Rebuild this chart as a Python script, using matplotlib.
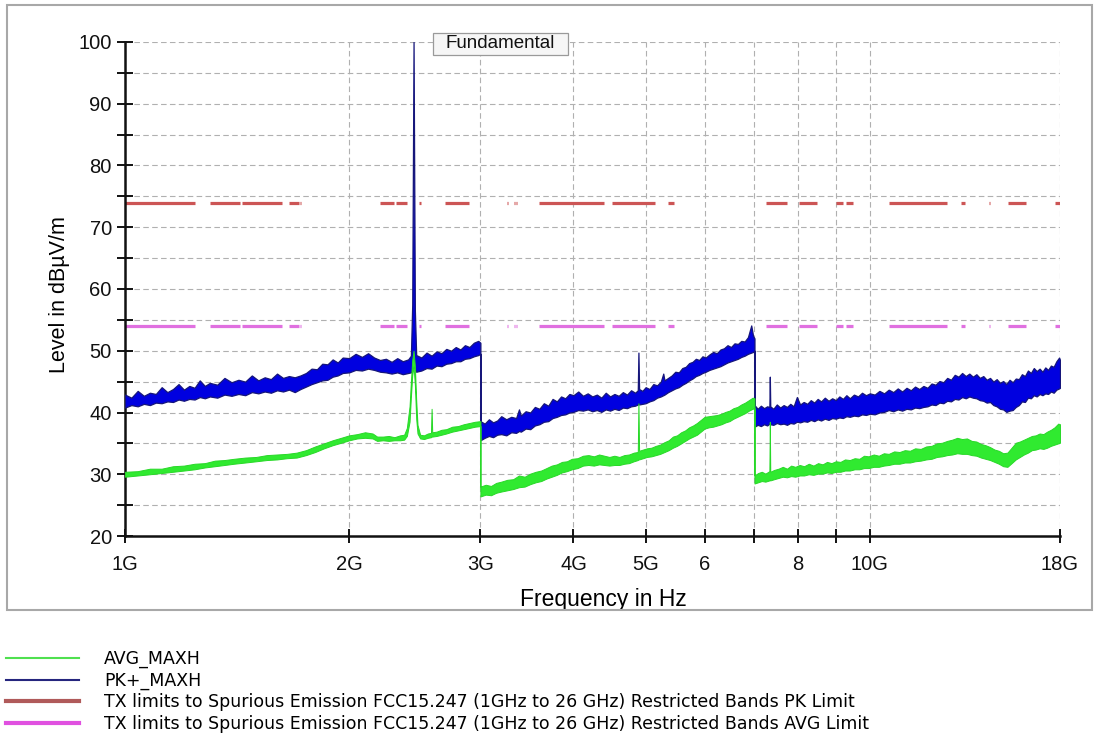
#!/usr/bin/env python3

# Radiated spurious emission scan 1 GHz - 18 GHz with FCC 15.247 restricted band limits

import matplotlib
matplotlib.use('Agg')
import matplotlib.pyplot as plt
from matplotlib.lines import Line2D
from matplotlib.patches import Rectangle
from matplotlib.ticker import FixedLocator, FixedFormatter, NullLocator, MultipleLocator

# ---- trace data (frequency in GHz, level in dBuV/m) ----
# each trace is stored as a noise band: upper and lower envelope

# PK+_MAXH, 1 - 3 GHz
pk_freq_a = [1.00, 1.02, 1.04, 1.06, 1.08, 1.10, 1.12, 1.14, 1.16, 1.18, 1.20, 1.22, 1.24, 1.26, 1.28,
             1.30, 1.33, 1.36, 1.39, 1.42, 1.45, 1.48, 1.51, 1.54, 1.57, 1.60, 1.63, 1.66, 1.69, 1.72,
             1.75, 1.78, 1.81, 1.84, 1.87, 1.90, 1.93, 1.96, 2.00, 2.04, 2.08, 2.12, 2.16, 2.20, 2.24,
             2.28, 2.32, 2.36, 2.40, 2.42, 2.43, 2.44, 2.45, 2.46, 2.50, 2.54, 2.58, 2.62, 2.66, 2.70,
             2.74, 2.78, 2.82, 2.86, 2.90, 2.94, 2.98, 3.00]
pk_high_a = [42.9, 42.4, 43.5, 42.7, 43.2, 43.0, 44.1, 43.3, 43.8, 44.6, 43.7, 44.3, 44.0, 45.2, 44.3,
             44.8, 44.5, 45.6, 44.9, 45.3, 45.0, 46.0, 45.2, 45.7, 45.4, 46.3, 45.6, 45.9, 45.7, 46.0,
             46.4, 47.1, 47.0, 47.9, 47.8, 48.6, 48.1, 48.9, 48.8, 49.5, 49.0, 49.6, 48.9, 48.5, 48.7,
             48.2, 48.8, 48.3, 48.6, 49.2, 57.5, 100.0, 56.5, 49.3, 48.9, 49.7, 49.2, 49.9, 49.6, 50.3,
             50.0, 50.6, 50.2, 50.9, 50.6, 51.3, 51.6, 51.3]
pk_low_a = [40.8, 41.2, 41.0, 41.4, 41.2, 41.6, 41.5, 41.8, 41.7, 42.1, 41.9, 42.2, 42.1, 42.5, 42.3,
            42.6, 42.4, 42.9, 42.7, 43.0, 42.8, 43.3, 43.1, 43.4, 43.2, 43.6, 43.4, 43.7, 43.3, 43.8,
            44.2, 44.6, 44.9, 45.2, 45.3, 45.8, 46.0, 46.4, 46.5, 46.9, 46.8, 47.1, 46.9, 46.6, 46.5,
            46.3, 46.5, 46.2, 46.4, 46.5, 47.0, 47.5, 47.0, 46.6, 46.8, 47.2, 47.1, 47.6, 47.5, 47.9,
            48.0, 48.3, 48.3, 48.7, 48.8, 49.1, 49.3, 49.5]

# PK+_MAXH, 3 - 7 GHz
pk_freq_b = [3.00, 3.04, 3.08, 3.12, 3.16, 3.20, 3.25, 3.30, 3.35, 3.38, 3.40, 3.45, 3.50, 3.55, 3.60,
             3.65, 3.70, 3.75, 3.80, 3.85, 3.90, 3.95, 4.00, 4.06, 4.12, 4.18, 4.24, 4.30, 4.36, 4.42,
             4.48, 4.54, 4.60, 4.66, 4.72, 4.78, 4.84, 4.88, 4.89, 4.90, 4.95, 5.00, 5.06, 5.12, 5.18,
             5.24, 5.28, 5.30, 5.36, 5.42, 5.48, 5.54, 5.60, 5.66, 5.72, 5.78, 5.84, 5.90, 5.96, 6.02,
             6.09, 6.16, 6.23, 6.30, 6.37, 6.44, 6.51, 6.58, 6.65, 6.72, 6.79, 6.86, 6.93, 6.97, 7.00]
pk_high_b = [38.6, 38.2, 38.9, 38.4, 38.7, 39.4, 38.9, 39.3, 39.1, 40.5, 39.5, 40.2, 40.0, 40.9, 40.6,
             41.5, 41.1, 42.2, 41.8, 42.6, 42.3, 43.0, 42.8, 43.4, 42.7, 43.1, 42.6, 42.9, 42.4, 43.2,
             42.6, 43.0, 42.7, 43.3, 42.9, 43.6, 43.2, 43.6, 49.7, 43.8, 43.5, 44.1, 43.8, 44.6, 44.4,
             45.0, 46.3, 45.2, 45.6, 46.0, 46.6, 46.5, 47.2, 47.4, 48.0, 48.2, 48.7, 48.5, 49.1, 48.9,
             49.4, 49.8, 49.6, 50.2, 50.4, 50.9, 50.6, 51.2, 51.1, 51.6, 51.5, 52.2, 54.1, 52.4, 52.0]
pk_low_b = [35.5, 35.9, 36.2, 36.0, 36.4, 36.5, 36.3, 36.8, 36.7, 37.0, 36.9, 37.4, 37.3, 37.9, 38.1,
            38.5, 38.6, 39.1, 39.3, 39.6, 39.7, 40.0, 40.1, 40.4, 40.3, 40.5, 40.2, 40.4, 40.1, 40.5,
            40.3, 40.6, 40.4, 40.8, 40.7, 41.0, 41.1, 41.3, 41.4, 41.3, 41.4, 41.5, 41.8, 42.0, 42.4,
            42.6, 42.8, 42.9, 43.3, 43.6, 43.9, 44.1, 44.5, 44.8, 45.2, 45.5, 45.9, 46.1, 46.4, 46.6,
            46.9, 47.1, 47.3, 47.5, 47.8, 48.1, 48.3, 48.5, 48.7, 49.0, 49.2, 49.5, 49.7, 49.8, 50.0]

# PK+_MAXH, 7 - 18 GHz
pk_freq_c = [7.00, 7.07, 7.14, 7.21, 7.28, 7.33, 7.34, 7.35, 7.42, 7.50, 7.58, 7.66, 7.74, 7.82, 7.90,
             7.98, 8.06, 8.15, 8.24, 8.33, 8.42, 8.51, 8.60, 8.70, 8.80, 8.90, 9.00, 9.10, 9.20, 9.30,
             9.40, 9.52, 9.64, 9.76, 9.88, 10.00, 10.15, 10.30, 10.45, 10.60, 10.75, 10.90, 11.05, 11.20,
             11.35, 11.50, 11.65, 11.80, 11.95, 12.10, 12.25, 12.40, 12.55, 12.70, 12.85, 13.00, 13.15,
             13.30, 13.45, 13.60, 13.75, 13.90, 14.05, 14.20, 14.35, 14.50, 14.65, 14.80, 14.95, 15.10,
             15.25, 15.40, 15.55, 15.70, 15.85, 16.00, 16.15, 16.30, 16.45, 16.60, 16.75, 16.90, 17.05,
             17.20, 17.35, 17.50, 17.65, 17.80, 17.95, 18.00]
pk_high_c = [41.2, 40.6, 41.1, 40.7, 41.0, 40.9, 45.8, 41.0, 40.6, 41.3, 40.8, 41.2, 40.9, 41.4, 41.0,
             42.5, 41.3, 41.7, 41.4, 42.0, 41.6, 42.2, 41.8, 42.4, 41.9, 42.3, 42.0, 42.6, 42.2, 42.8,
             42.3, 42.9, 42.6, 43.2, 42.8, 43.1, 42.9, 43.5, 43.1, 43.7, 43.3, 43.9, 43.4, 44.0,
             43.6, 44.2, 43.8, 44.3, 44.0, 44.7, 44.5, 45.1, 44.9, 45.6, 45.3, 46.1, 45.8,
             46.4, 45.9, 46.3, 45.8, 46.2, 45.6, 45.9, 45.3, 45.6, 45.0, 45.4, 44.8, 45.1,
             44.6, 45.3, 44.9, 45.5, 45.4, 46.2, 45.9, 46.8, 46.4, 47.2, 46.7, 47.1, 46.6,
             47.3, 46.9, 47.6, 47.4, 48.3, 48.9, 48.5]
pk_low_c = [37.7, 38.0, 37.8, 38.1, 37.9, 38.2, 38.3, 38.1, 38.0, 38.3, 38.1, 38.2, 38.0, 38.3, 38.2,
            38.5, 38.4, 38.6, 38.5, 38.8, 38.6, 38.9, 38.7, 39.0, 38.8, 39.1, 39.0, 39.2, 39.1, 39.4,
            39.3, 39.5, 39.4, 39.7, 39.6, 39.8, 39.7, 40.0, 40.1, 40.4, 40.2, 40.5, 40.3, 40.6,
            40.5, 40.8, 40.7, 40.9, 41.0, 41.3, 41.2, 41.6, 41.5, 41.9, 41.8, 42.2, 42.1,
            42.5, 42.3, 42.6, 42.4, 42.3, 42.0, 41.9, 41.6, 41.7, 41.2, 41.0, 40.6, 40.5,
            40.1, 40.3, 40.4, 40.9, 41.2, 41.8, 41.7, 42.4, 42.3, 42.8, 42.6, 43.0, 42.8,
            43.1, 43.0, 43.4, 43.2, 43.7, 43.9, 44.0]

# AVG_MAXH, 1 - 3 GHz
avg_freq_a = [1.00, 1.04, 1.08, 1.12, 1.16, 1.20, 1.24, 1.28, 1.32, 1.36, 1.40, 1.45, 1.50, 1.55, 1.60,
              1.65, 1.70, 1.75, 1.80, 1.85, 1.90, 1.95, 2.00, 2.05, 2.10, 2.15, 2.18, 2.22, 2.26, 2.30,
              2.34, 2.37, 2.39, 2.41, 2.42, 2.43, 2.44, 2.45, 2.46, 2.47, 2.49, 2.52, 2.55, 2.575, 2.58,
              2.585, 2.62, 2.66, 2.70, 2.75, 2.80, 2.85, 2.90, 2.95, 3.00]
avg_high_a = [30.4, 30.5, 30.9, 30.9, 31.3, 31.4, 31.7, 31.8, 32.2, 32.3, 32.5, 32.7, 32.8, 33.1, 33.2,
              33.3, 33.5, 33.9, 34.5, 35.0, 35.5, 35.9, 36.3, 36.5, 36.8, 36.6, 36.1, 36.1, 36.2, 36.0,
              36.3, 36.4, 37.5, 41.0, 45.0, 48.5, 50.0, 47.5, 42.0, 38.0, 36.4, 36.3, 36.6, 36.7, 40.6,
              36.8, 36.9, 37.2, 37.3, 37.7, 37.8, 38.1, 38.3, 38.5, 38.6]
avg_low_a = [29.6, 29.8, 30.0, 30.2, 30.4, 30.6, 30.8, 31.1, 31.3, 31.5, 31.7, 31.9, 32.1, 32.3, 32.4,
             32.6, 32.7, 33.1, 33.6, 34.2, 34.7, 35.1, 35.5, 35.8, 35.9, 35.8, 35.4, 35.5, 35.4, 35.5,
             35.5, 35.6, 36.2, 38.5, 42.5, 46.0, 47.5, 44.5, 39.0, 36.6, 35.8, 35.7, 35.9, 36.0, 36.1,
             36.1, 36.2, 36.4, 36.6, 36.9, 37.1, 37.3, 37.5, 37.7, 37.8]

# AVG_MAXH, 3 - 7 GHz
avg_freq_b = [3.00, 3.05, 3.10, 3.15, 3.20, 3.26, 3.32, 3.38, 3.44, 3.50, 3.56, 3.62, 3.68, 3.74, 3.80,
              3.86, 3.92, 3.98, 4.05, 4.12, 4.19, 4.26, 4.33, 4.40, 4.47, 4.54, 4.61, 4.68, 4.75, 4.82,
              4.88, 4.89, 4.90, 4.96, 5.02, 5.09, 5.16, 5.23, 5.30, 5.37, 5.44, 5.51, 5.58, 5.65, 5.72,
              5.79, 5.86, 5.93, 6.00, 6.08, 6.16, 6.24, 6.32, 6.40, 6.48, 6.56, 6.64, 6.72, 6.80, 6.88,
              6.96, 7.00]
avg_high_b = [28.0, 28.3, 28.1, 28.6, 28.8, 29.1, 29.2, 29.8, 29.6, 30.1, 30.4, 30.6, 31.0, 31.4, 31.6,
              32.0, 32.1, 32.5, 32.6, 33.0, 33.1, 32.9, 33.2, 33.0, 32.8, 33.0, 32.8, 33.1, 33.2, 33.5,
              33.6, 41.5, 33.8, 34.0, 34.2, 34.3, 34.6, 34.8, 35.2, 35.5, 36.1, 36.3, 36.8, 37.1, 37.6,
              37.9, 38.3, 38.8, 39.3, 39.4, 39.5, 39.6, 39.8, 40.1, 40.3, 40.7, 40.9, 41.3, 41.6, 42.0,
              42.4, 42.3]
avg_low_b = [26.4, 26.7, 26.6, 27.0, 27.2, 27.4, 27.6, 27.9, 28.0, 28.4, 28.7, 28.9, 29.3, 29.6, 29.9,
             30.3, 30.5, 30.8, 31.0, 31.4, 31.5, 31.4, 31.6, 31.5, 31.4, 31.5, 31.5, 31.7, 31.8, 32.1,
             32.3, 32.4, 32.4, 32.6, 32.8, 32.9, 33.1, 33.3, 33.6, 33.9, 34.3, 34.6, 35.0, 35.4, 35.8,
             36.1, 36.4, 36.9, 37.4, 37.6, 37.7, 37.9, 38.1, 38.4, 38.6, 39.0, 39.3, 39.6, 39.9, 40.3,
             40.6, 40.7]

# AVG_MAXH, 7 - 18 GHz
avg_freq_c = [7.00, 7.08, 7.16, 7.24, 7.33, 7.34, 7.35, 7.44, 7.54, 7.64, 7.74, 7.84, 7.94, 8.05, 8.16,
              8.28, 8.40, 8.52, 8.64, 8.76, 8.88, 9.00, 9.13, 9.26, 9.40, 9.54, 9.68, 9.82, 9.96, 10.12,
              10.28, 10.44, 10.60, 10.78, 10.96, 11.14, 11.32, 11.50, 11.70, 11.90, 12.10, 12.30, 12.50,
              12.70, 12.90, 13.10, 13.30, 13.50, 13.70, 13.90, 14.10, 14.30, 14.50, 14.70, 14.90, 15.10,
              15.30, 15.50, 15.70, 15.90, 16.10, 16.30, 16.50, 16.70, 16.90, 17.10, 17.30, 17.50, 17.70,
              17.90, 18.00]
avg_high_c = [29.8, 30.2, 30.4, 30.1, 30.5, 38.5, 30.4, 30.7, 30.9, 31.2, 30.9, 31.4, 31.2, 31.5, 31.3,
              31.7, 31.4, 31.8, 31.6, 32.0, 31.8, 32.1, 32.0, 32.4, 32.3, 32.6, 32.5, 33.0, 32.9, 33.2,
              33.0, 33.4, 33.3, 33.7, 33.6, 33.9, 33.8, 34.2, 34.1, 34.5, 34.6, 35.0, 35.1,
              35.4, 35.6, 35.9, 35.7, 35.8, 35.4, 35.3, 34.9, 34.7, 34.4, 34.0, 33.8, 33.4,
              33.5, 34.3, 35.1, 35.3, 35.6, 35.9, 36.2, 36.3, 36.6, 36.5, 36.9, 37.2, 37.6,
              38.2, 38.1]
avg_low_c = [28.5, 28.7, 28.9, 28.8, 29.0, 29.1, 29.0, 29.2, 29.4, 29.6, 29.5, 29.7, 29.6, 29.8, 29.8,
             30.0, 29.9, 30.1, 30.1, 30.3, 30.2, 30.4, 30.4, 30.6, 30.6, 30.8, 30.8, 31.0, 31.0, 31.2,
             31.2, 31.4, 31.5, 31.7, 31.7, 31.9, 31.9, 32.1, 32.2, 32.4, 32.5, 32.8, 32.9,
             33.1, 33.2, 33.4, 33.3, 33.3, 33.1, 33.0, 32.7, 32.5, 32.3, 32.0, 31.7, 31.3,
             31.2, 31.8, 32.4, 32.8, 33.2, 33.5, 33.9, 34.0, 34.2, 34.1, 34.3, 34.6, 34.8,
             35.0, 35.1]

# FCC 15.205 restricted bands (GHz) and the limits drawn inside them
band_start = [0.96, 1.30, 1.435, 1.6455, 1.66, 1.7188, 2.20, 2.31, 2.4835, 2.69, 3.26, 3.332, 3.3458,
              3.60, 4.50, 5.35, 7.25, 8.025, 9.00, 9.30, 10.60, 13.25, 14.47, 15.35, 17.70]
band_stop = [1.24, 1.427, 1.6265, 1.6465, 1.71, 1.7222, 2.30, 2.39, 2.50, 2.90, 3.267, 3.339, 3.358,
             4.40, 5.15, 5.46, 7.75, 8.50, 9.20, 9.50, 12.70, 13.40, 14.50, 16.20, 21.40]
pk_limit = 74.0
avg_limit = 54.0

x_ticks = [1, 2, 3, 4, 5, 6, 7, 8, 9, 10, 18]
x_tick_labels = ['1G', '2G', '3G', '4G', '5G', '6', '', '8', '', '10G', '18G']

legend_labels = [
    'AVG_MAXH',
    'PK+_MAXH',
    'TX limits to Spurious Emission FCC15.247 (1GHz to 26 GHz) Restricted Bands PK Limit',
    'TX limits to Spurious Emission FCC15.247 (1GHz to 26 GHz) Restricted Bands AVG Limit',
]


def main():

    plt.rcParams['font.family'] = ['Liberation Sans', 'DejaVu Sans']

    W, H = 1096, 744
    fig = plt.figure(figsize=(W / 100, H / 100), dpi=100)
    fig.patch.set_facecolor('white')

    # outer frame round the diagram
    fig.add_artist(Rectangle((7 / W, 1 - 610 / H), 1085 / W, 605 / H, transform=fig.transFigure,
                             fill=False, edgecolor='#a8a8a8', linewidth=1.5))

    ax = fig.add_axes([125 / W, 1 - 536 / H, 935 / W, 494 / H])
    ax.set_xscale('log')
    ax.set_xlim(1, 18)
    ax.set_ylim(20, 100)

    green = '#30ea30'
    blue = '#0000e0'
    red = '#cc5555'
    pink = '#e070e0'

    # limit lines only inside the restricted bands
    n_bands = len(band_start)
    ax.hlines([pk_limit] * n_bands, band_start, band_stop, colors=red, linewidth=2.3, zorder=2)
    ax.hlines([avg_limit] * n_bands, band_start, band_stop, colors=pink, linewidth=2.3, zorder=2)

    # PK trace
    pk_freq = pk_freq_a + pk_freq_b + pk_freq_c
    pk_high = pk_high_a + pk_high_b + pk_high_c
    pk_low = pk_low_a + pk_low_b + pk_low_c
    ax.fill_between(pk_freq, pk_low, pk_high, facecolor=blue, edgecolor='#16167a',
                    linewidth=0.9, zorder=3)

    # AVG trace
    avg_freq = avg_freq_a + avg_freq_b + avg_freq_c
    avg_high = avg_high_a + avg_high_b + avg_high_c
    avg_low = avg_low_a + avg_low_b + avg_low_c
    ax.fill_between(avg_freq, avg_low, avg_high, facecolor=green, edgecolor='#28d828',
                    linewidth=0.7, zorder=4)

    # axes, ticks and grid
    ax.xaxis.set_major_locator(FixedLocator(x_ticks))
    ax.xaxis.set_major_formatter(FixedFormatter(x_tick_labels))
    ax.xaxis.set_minor_locator(NullLocator())
    ax.yaxis.set_major_locator(MultipleLocator(10))
    ax.yaxis.set_minor_locator(FixedLocator([25, 35, 45, 55, 65, 75, 85, 95]))

    ax.set_axisbelow(True)
    ax.grid(True, which='major', color='#b0b0b0', linestyle=(0, (5, 3)), linewidth=0.8)
    ax.grid(True, which='minor', axis='y', color='#b0b0b0', linestyle=(0, (5, 3)), linewidth=0.8)

    ax.tick_params(axis='y', which='both', direction='inout', length=11, width=1.4,
                   labelsize=14.5, pad=4, colors='#111111')
    ax.tick_params(axis='x', which='major', direction='inout', length=10, width=1.4,
                   labelsize=14.5, pad=9, colors='#111111')

    for side in ['top', 'right']:
        ax.spines[side].set_visible(False)
    for side in ['left', 'bottom']:
        ax.spines[side].set_linewidth(1.8)
        ax.spines[side].set_color('#111111')

    ax.set_xlabel('Frequency in Hz', fontsize=16.5)
    ax.xaxis.set_label_coords(0.512, -0.106)
    ax.set_ylabel('Level in dBµV/m', fontsize=15.5)
    ax.yaxis.set_label_coords(-0.059, 0.488)

    # "Fundamental" marker label with its box
    ax.add_patch(Rectangle((0.3294, 0.9737), 0.1444, 0.0445, transform=ax.transAxes,
                           facecolor='#f6f6f6', edgecolor='#9a9a9a', linewidth=0.9,
                           zorder=6, clip_on=False))
    ax.text(0.4016, 0.996, 'Fundamental', transform=ax.transAxes, ha='center', va='center',
            fontsize=13.5, zorder=7, clip_on=False, color='#111111')

    # legend below the frame
    handles = [
        Line2D([], [], color='#4fe04f', linewidth=1.5),
        Line2D([], [], color='#25257e', linewidth=1.5),
        Line2D([], [], color='#b05a5a', linewidth=3),
        Line2D([], [], color='#e050e0', linewidth=3),
    ]
    fig.legend(handles, legend_labels, loc='upper left', bbox_to_anchor=(6 / W, 1 - 650 / H),
               frameon=False, prop={'family': 'DejaVu Sans', 'size': 12.5}, borderpad=0,
               borderaxespad=0, handlelength=4.2, handletextpad=1.45, labelspacing=0.2)

    fig.savefig('out.png', dpi=100)


if __name__ == "__main__":
    main()
